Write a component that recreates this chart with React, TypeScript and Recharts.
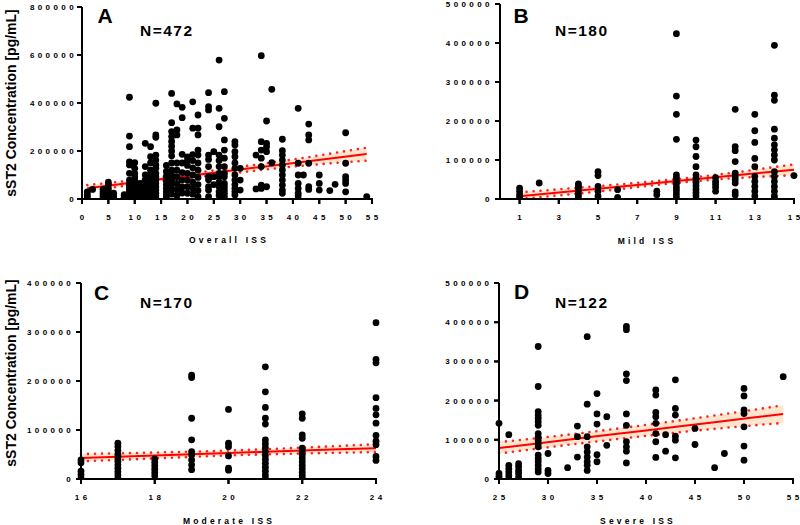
import React from 'react'
import { ComposedChart, Scatter, Line, Area, XAxis, YAxis } from 'recharts'

// sST2 values in thousands of pg/mL, one column of points per ISS score
const overallIss: [number, number[]][] = [
  [1, [30, 20, 12, 5]],
  [2, [40]],
  [4, [40, 30, 22, 14, 6]],
  [5, [70, 60, 45, 32, 20, 10, 3]],
  [6, [24, 10, 4]],
  [8, [18, 10, 4]],
  [9, [424, 262, 218, 155, 142, 107, 79, 65, 55, 47, 39, 30, 22, 14, 6]],
  [10, [151, 128, 107, 93, 79, 65, 51, 40, 30, 20, 10]],
  [11, [65, 55, 45, 35, 25, 15, 5]],
  [12, [232, 135, 100, 80, 65, 51, 40, 30, 20, 10]],
  [13, [218, 176, 150, 120, 100, 80, 65, 51, 40, 28, 17, 6]],
  [14, [399, 267, 257, 183, 162, 142, 128, 107, 93, 79, 65, 51, 37, 24, 12, 3]],
  [16, [140, 115, 95, 75, 60, 45, 30, 18, 8]],
  [17, [440, 318, 281, 260, 240, 220, 200, 180, 150, 120, 100, 80, 60, 40, 20]],
  [18, [396, 288, 267, 150, 120, 93, 65, 40, 15]],
  [19, [382, 339, 186, 150, 110, 79, 50, 25]],
  [20, [175, 160, 140, 107, 79, 51, 24]],
  [21, [405, 295, 185, 160, 130, 100, 70, 45, 20]],
  [22, [350, 295, 267, 204, 183, 150, 120, 90, 60, 35, 10]],
  [24, [443, 385, 371, 183, 165, 135, 93, 80, 51, 37, 10]],
  [25, [197, 93, 60]],
  [26, [579, 378, 301, 183, 160, 135, 107, 93, 70, 51, 30, 15]],
  [27, [447, 336, 246, 204, 170, 135, 107, 93, 65, 51, 37, 24, 10]],
  [29, [239, 225, 197, 176, 150, 128, 100, 79, 60, 44, 30, 17]],
  [30, [128, 79, 37]],
  [33, [183, 42]],
  [34, [597, 239, 204, 170, 135, 58, 44]],
  [35, [325, 232, 218, 197, 51]],
  [36, [457, 151]],
  [38, [249, 201, 183, 162, 142, 121, 100, 79, 58, 37, 24]],
  [41, [378, 149, 100, 65, 44, 24, 12]],
  [42, [100]],
  [43, [312, 267, 246, 149, 51, 40]],
  [45, [100, 65, 37]],
  [47, [35]],
  [48, [61]],
  [50, [276, 149, 93, 79, 65, 30]],
  [54, [10]],
]

const mildIss: [number, number[]][] = [
  [1, [28, 20, 11, 5]],
  [2, [41]],
  [4, [39, 33, 28, 20, 11, 4]],
  [5, [70, 60, 32, 20, 7]],
  [6, [24, 4]],
  [8, [20, 11]],
  [9, [424, 264, 217, 153, 62, 55, 47, 39, 30, 22, 13, 5]],
  [10, [151, 134, 109, 83, 62, 52, 43, 34, 25, 16, 8]],
  [11, [55, 45, 38, 30, 20]],
  [12, [230, 134, 124, 96, 66, 58, 50, 41, 18, 10]],
  [13, [217, 175, 145, 104, 83, 58, 45, 32, 20, 8]],
  [14, [394, 266, 253, 179, 156, 139, 126, 113, 100, 70, 58, 45, 32, 20, 8, 1]],
  [15, [60]],
]

const moderateIss: [number, number[]][] = [
  [16, [39, 33, 16, 9, 2]],
  [17, [73, 66, 58, 50, 43, 36, 29, 22, 15, 8, 1]],
  [18, [41, 34, 27, 20, 13, 6]],
  [19, [212, 207, 124, 80, 56, 49, 39, 29, 19]],
  [20, [142, 73, 66, 47, 22, 18]],
  [21, [229, 178, 146, 124, 112, 80, 72, 64, 56, 48, 40, 32, 24, 16, 8, 1]],
  [22, [133, 124, 90, 83, 63, 56, 49, 42, 35, 28, 21, 14, 7, 1]],
  [24, [319, 244, 237, 166, 144, 131, 114, 89, 77, 70, 46, 38]],
]

const severeIss: [number, number[]][] = [
  [25, [142, 14, 7, 1]],
  [26, [113, 35, 26, 18, 9, 1]],
  [27, [39, 31, 22, 14, 5]],
  [29, [338, 236, 172, 163, 155, 146, 137, 116, 107, 99, 90, 82, 61, 52, 44, 35, 26, 18]],
  [30, [65, 22, 14]],
  [32, [29]],
  [33, [135, 108, 56]],
  [34, [363, 191, 108, 82, 69, 56, 44, 35, 22]],
  [35, [218, 166, 140, 62, 44]],
  [36, [159, 86]],
  [38, [389, 381, 268, 251, 166, 137, 95, 82, 71, 41]],
  [41, [227, 214, 170, 159, 142, 116, 95, 55]],
  [42, [113, 71]],
  [43, [253, 180, 163, 109, 99, 54]],
  [45, [129, 88]],
  [47, [29]],
  [48, [65]],
  [50, [231, 212, 176, 167, 133, 84, 48]],
  [54, [261]],
]

// regression line and 95% band (thousands)
const overallFitX = [1, 14, 28, 41, 54]
const overallFitY = [45, 80, 118, 152, 188]
const overallFitHi = [58, 88, 128, 168, 214]
const overallFitLo = [32, 72, 106, 137, 160]

const mildFitX = [1, 5, 8, 11, 15]
const mildFitY = [7, 26, 41, 56, 75]
const mildFitHi = [17, 33, 46, 62, 89]
const mildFitLo = [0, 19, 36, 50, 61]

const moderateFitX = [16, 18, 20, 22, 24]
const moderateFitY = [43, 48, 53, 58, 63]
const moderateFitHi = [51, 54, 58, 64, 71]
const moderateFitLo = [36, 42, 48, 52, 55]

const severeFitX = [25, 32, 40, 47, 54]
const severeFitY = [79, 100, 124, 145, 166]
const severeFitHi = [94, 113, 138, 162, 188]
const severeFitLo = [65, 87, 110, 128, 143]

const overallXTicks = [0, 5, 10, 15, 20, 25, 30, 35, 40, 45, 50, 55]
const mildXTicks = [1, 3, 5, 7, 9, 11, 13, 15]
const moderateXTicks = [16, 18, 20, 22, 24]
const severeXTicks = [25, 30, 35, 40, 45, 50, 55]
const overallYTicks = [0, 200000, 400000, 600000, 800000]
const mildYTicks = [0, 100000, 200000, 300000, 400000, 500000]
const moderateYTicks = [0, 100000, 200000, 300000, 400000]
const severeYTicks = [0, 100000, 200000, 300000, 400000, 500000]

const tickFont = 'Liberation Sans, Arial, sans-serif'
const LS = 3.4

const Dot = (props: any) => <circle cx={props.cx} cy={props.cy} r={3.4} fill="#000" />

const XTick = ({ x, y, payload }: any) => (
  <text x={x + LS / 2} y={y} dy={13} textAnchor="middle" fontSize={8} fontWeight="bold"
    fontFamily={tickFont} fill="#000" letterSpacing={LS}>
    {payload.value}
  </text>
)

const YTick = ({ x, y, payload }: any) => (
  <text x={x + LS} y={y} dy={3} textAnchor="end" fontSize={8} fontWeight="bold"
    fontFamily={tickFont} fill="#000" letterSpacing={LS}>
    {payload.value}
  </text>
)

// axis lines and tick marks, laid over the chart at the plot frame
function AxisFrame({ frame, xDomain, xTicks, yDomain, yTicks, gap }: any) {
  const { x0, x1, y0, y1 } = frame
  const sx = (v: number) => x0 + ((v - xDomain[0]) / (xDomain[1] - xDomain[0])) * (x1 - x0)
  const sy = (v: number) => y1 - ((v - yDomain[0]) / (yDomain[1] - yDomain[0])) * (y1 - y0)
  const d = [
    `M${x0} ${y0} V${y1}`,
    `M${x0 - 1} ${y1} H${x1 + 1}`,
    ...yTicks.map((v: number) => `M${x0 - 5} ${sy(v)} H${x0}`),
    ...xTicks.map((v: number) => `M${sx(v)} ${y1} V${y1 + 5}`),
  ].join(' ')
  return (
    <g>
      <path d={d} stroke="#000" strokeWidth={2} fill="none" />
      <text x={x0 - gap + LS} y={y1 + 3} textAnchor="end" fontSize={8} fontWeight="bold"
        fontFamily={tickFont} fill="#000" letterSpacing={LS}>0</text>
    </g>
  )
}

function Panel({ left, top, height, frame, xDomain, xTicks, yDomain, yTicks, groups, fitX, fitY, fitHi, fitLo, gap }: any) {
  const points = groups.flatMap(([x, ys]: [number, number[]]) => ys.map((v) => ({ x, y: v * 1000 })))
  const fit = fitX.map((x: number, i: number) => ({
    x,
    fit: fitY[i] * 1000,
    hi: fitHi[i] * 1000,
    lo: fitLo[i] * 1000,
    band: [fitLo[i] * 1000, fitHi[i] * 1000],
  }))
  const axisLine = { stroke: '#000', strokeWidth: 2 }
  return (
    <div style={{ position: 'absolute', left, top }}>
      <ComposedChart width={400} height={height}
        margin={{ top: frame.y0 - top, right: left + 400 - frame.x1, bottom: 0, left: 0 }}>
        <XAxis type="number" dataKey="x" domain={xDomain} ticks={xTicks} height={top + height - frame.y1}
          axisLine={axisLine} tickLine={axisLine} tickSize={5} tickMargin={3} tick={<XTick />} interval={0} />
        <YAxis type="number" domain={yDomain} ticks={yTicks.filter((v: number) => v > 0)} allowDataOverflow
          width={frame.x0 - left} axisLine={axisLine} tickLine={axisLine} tickSize={5} tickMargin={gap - 5}
          tick={<YTick />} interval={0} />
        <Area data={fit} dataKey="band" type="monotone" stroke="none" fill="#fcd3ad" isAnimationActive={false} />
        <Scatter data={points} dataKey="y" shape={Dot} isAnimationActive={false} />
        <Line data={fit} dataKey="hi" type="monotone" stroke="#ff2020" strokeWidth={2.6}
          strokeDasharray="0 7" strokeLinecap="round" dot={false} isAnimationActive={false} />
        <Line data={fit} dataKey="lo" type="monotone" stroke="#ff2020" strokeWidth={2.6}
          strokeDasharray="0 7" strokeLinecap="round" dot={false} isAnimationActive={false} />
        <Line data={fit} dataKey="fit" type="monotone" stroke="#ff0000" strokeWidth={2}
          dot={false} isAnimationActive={false} />
      </ComposedChart>
    </div>
  )
}

const titleFont = 'Liberation Sans, Arial, sans-serif'

const panels = [
  { key: 'A', left: 0, top: 0, height: 262, frame: { x0: 82, x1: 372, y0: 7, y1: 199 }, gap: 8.4,
    xDomain: [0, 55], xTicks: overallXTicks, yDomain: [0, 800000], yTicks: overallYTicks,
    groups: overallIss, fitX: overallFitX, fitY: overallFitY, fitHi: overallFitHi, fitLo: overallFitLo },
  { key: 'B', left: 400, top: 0, height: 262, frame: { x0: 500, x1: 794, y0: 4, y1: 199 }, gap: 10.5,
    xDomain: [0, 15], xTicks: mildXTicks, yDomain: [0, 500000], yTicks: mildYTicks,
    groups: mildIss, fitX: mildFitX, fitY: mildFitY, fitHi: mildFitHi, fitLo: mildFitLo },
  { key: 'C', left: 0, top: 262, height: 263, frame: { x0: 81, x1: 376, y0: 283, y1: 479 }, gap: 10.3,
    xDomain: [16, 24], xTicks: moderateXTicks, yDomain: [0, 400000], yTicks: moderateYTicks,
    groups: moderateIss, fitX: moderateFitX, fitY: moderateFitY, fitHi: moderateFitHi, fitLo: moderateFitLo },
  { key: 'D', left: 400, top: 262, height: 263, frame: { x0: 499, x1: 793, y0: 283, y1: 479 }, gap: 10,
    xDomain: [25, 55], xTicks: severeXTicks, yDomain: [0, 500000], yTicks: severeYTicks,
    groups: severeIss, fitX: severeFitX, fitY: severeFitY, fitHi: severeFitHi, fitLo: severeFitLo },
]

export default function App() {
  return (
    <div style={{ position: 'absolute', left: 0, top: 0, width: 800, height: 525, background: '#fff' }}>
      {panels.map((p) => <Panel {...p} />)}
      <svg width={800} height={525} style={{ position: 'absolute', left: 0, top: 0, pointerEvents: 'none' }}>
        {panels.map((p) => <AxisFrame key={p.key} {...p} />)}
        <g fontFamily={titleFont} fontWeight="bold" fill="#000">
          <text x={105} y={23} fontSize={21} textAnchor="middle">A</text>
          <text x={521} y={23} fontSize={21} textAnchor="middle">B</text>
          <text x={101.5} y={300} fontSize={21} textAnchor="middle">C</text>
          <text x={521.5} y={299} fontSize={21} textAnchor="middle">D</text>
          <text x={140} y={36} fontSize={15.5} letterSpacing={1.5}>N=472</text>
          <text x={555} y={36} fontSize={15.5} letterSpacing={1.5}>N=180</text>
          <text x={140} y={308} fontSize={15.5} letterSpacing={1.5}>N=170</text>
          <text x={555} y={308} fontSize={15.5} letterSpacing={1.5}>N=122</text>
          <text transform="translate(16,103) rotate(-90)" fontSize={14} textAnchor="middle">sST2 Concentration [pg/mL]</text>
          <text transform="translate(16,373) rotate(-90)" fontSize={14} textAnchor="middle">sST2 Concentration [pg/mL]</text>
          <g fontSize={8.5} textAnchor="middle" letterSpacing={3.2}>
            <text x={229} y={243}>Overall ISS</text>
            <text x={647} y={244}>Mild ISS</text>
            <text x={229} y={524}>Moderate ISS</text>
            <text x={638} y={524}>Severe ISS</text>
          </g>
        </g>
      </svg>
    </div>
  )
}
